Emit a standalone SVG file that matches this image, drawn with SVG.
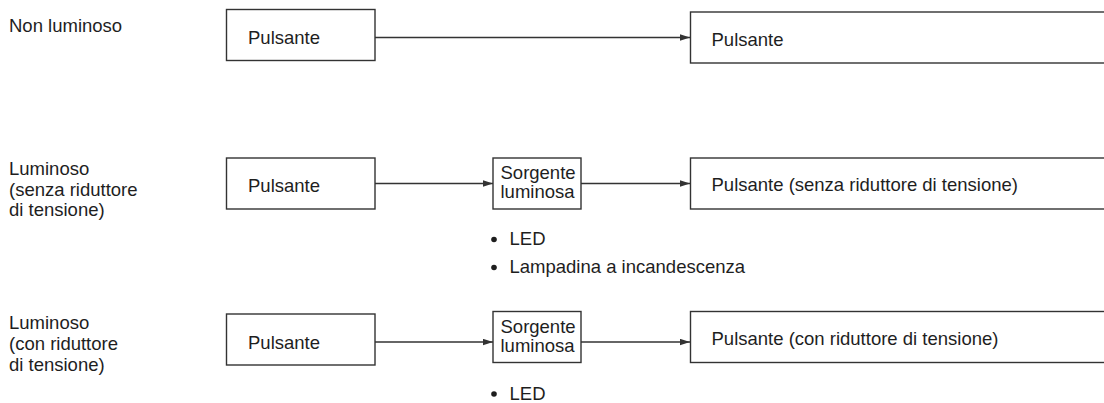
<svg xmlns="http://www.w3.org/2000/svg" width="1104" height="403" viewBox="0 0 1104 403">
<style>
text{font-family:"Liberation Sans",Arial,sans-serif;font-size:18.5px;fill:#1e1e1e}
.box{fill:#fff;stroke:#333;stroke-width:1.4}
.conn{stroke:#333;stroke-width:1.3;fill:none;marker-end:url(#ah)}
.dot{fill:#1e1e1e}
</style>
<defs>
<marker id="ah" markerWidth="11" markerHeight="8" refX="10" refY="3.5" orient="auto" markerUnits="userSpaceOnUse">
<path d="M0,0.3 L10,3.5 L0,6.7 Z" fill="#333"/>
</marker>
</defs>
<g id="labels">
<text x="9" y="32">Non luminoso</text>
<text x="9" y="175">Luminoso</text>
<text x="9" y="195.5">(senza riduttore</text>
<text x="9" y="216">di tensione)</text>
<text x="9" y="329">Luminoso</text>
<text x="9" y="350">(con riduttore</text>
<text x="9" y="371">di tensione)</text>
</g>
<g id="connectors">
<line class="conn" x1="375" y1="37.5" x2="690" y2="37.5"/>
<line class="conn" x1="375" y1="183.5" x2="493" y2="183.5"/>
<line class="conn" x1="581" y1="183.5" x2="690" y2="183.5"/>
<line class="conn" x1="375" y1="342" x2="493" y2="342"/>
<line class="conn" x1="581" y1="342" x2="690" y2="342"/>
</g>
<g id="n1a"><rect class="box" x="226.5" y="9.5" width="148.5" height="51"/><text x="248" y="44">Pulsante</text></g>
<g id="n1b"><rect class="box" x="690.5" y="12" width="430" height="51"/><text x="711.5" y="46">Pulsante</text></g>
<g id="n2a"><rect class="box" x="226.5" y="158" width="148.5" height="51"/><text x="248" y="191.5">Pulsante</text></g>
<g id="n2b"><rect class="box" x="493" y="158" width="88" height="51"/><text x="500.5" y="179.3">Sorgente</text><text x="500.5" y="198.3">luminosa</text></g>
<g id="n2c"><rect class="box" x="690.5" y="158" width="430" height="51"/><text x="711.5" y="191">Pulsante (senza riduttore di tensione)</text></g>
<g id="n3a"><rect class="box" x="226.5" y="314" width="148.5" height="51"/><text x="248" y="349.3">Pulsante</text></g>
<g id="n3b"><rect class="box" x="493" y="311.5" width="88" height="51"/><text x="500.5" y="333.3">Sorgente</text><text x="500.5" y="352.3">luminosa</text></g>
<g id="n3c"><rect class="box" x="690.5" y="311.5" width="430" height="51"/><text x="711.5" y="345">Pulsante (con riduttore di tensione)</text></g>
<g id="bullets">
<circle class="dot" cx="494" cy="239.5" r="2.8"/><text x="509.5" y="245">LED</text>
<circle class="dot" cx="494" cy="267.5" r="2.8"/><text x="509.5" y="273">Lampadina a incandescenza</text>
<circle class="dot" cx="494" cy="394" r="2.8"/><text x="509.5" y="399.5">LED</text>
</g>
</svg>
